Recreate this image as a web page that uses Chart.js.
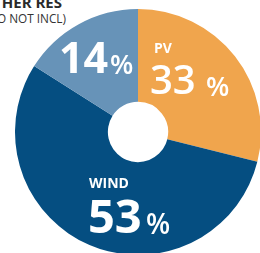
<!DOCTYPE html>
<html>
<head>
<meta charset="utf-8">
<script src="https://cdn.jsdelivr.net/npm/chart.js@4"></script>
<style>
  html, body { margin: 0; padding: 0; width: 260px; height: 253px; overflow: hidden; background: #fff; }
  #wrap { position: absolute; left: 15px; top: 8.5px; width: 246px; height: 246px; }
  .t { position: absolute; white-space: nowrap; font-family: "Open Sans", sans-serif; color: #2a2a2a; text-align: right; line-height: 1.362; }
  #t1 { right: 198px; top: -8px; font-size: 15px; font-weight: 700; }
  #t2 { right: 194px; top: 9.5px; font-size: 11.8px; font-weight: 400; color: #333; }
</style>
</head>
<body>
<div class="t" id="t1">OTHER RES</div>
<div class="t" id="t2">(HYDRO NOT INCL)</div>
<div id="wrap"><canvas id="c"></canvas></div>
<script>
// Categories and values (slice angles; printed shares from the labels)
const categories = ["PV", "WIND", "OTHER RES"];
const sliceValues = [28.9, 55.1, 16.0];
const shareLabels = ["33", "53", "14"];
const nameLabels = ["PV", "WIND", ""];
const colors = ["#F0A54D", "#054E81", "#6793B8"];

const labelPlugin = {
  id: "sliceLabels",
  afterDatasetsDraw(chart) {
    const arc = chart.getDatasetMeta(0).data[0];
    const cx = arc.x, cy = arc.y;
    const ctx = chart.ctx;
    ctx.save();
    ctx.fillStyle = "#fff";
    ctx.textAlign = "left";
    ctx.textBaseline = "alphabetic";
    const f = "'Open Sans', sans-serif";
    // layout per slice: [nameX, nameY, numX, numY, numFont, pctX, pctY, pctFont]
    const lay = [
      [154-138, 52-131.5, 150-138, 93.5-131.5, "600 40px " + f, 206-138, 95-131.5, "600 27px " + f],
      [89-138, 187-131.5, 88-138, 232.5-131.5, "700 47px " + f, 146-138, 233-131.5, "600 28px " + f],
      [0, 0, 59-138, 72.5-131.5, "700 43px " + f, 110-138, 73-131.5, "600 27px " + f]
    ];
    for (let i = 0; i < categories.length; i++) {
      const L = lay[i];
      if (nameLabels[i]) {
        ctx.font = "700 14px " + f;
        ctx.fillText(nameLabels[i], cx + L[0], cy + L[1]);
      }
      ctx.font = L[4];
      ctx.fillText(shareLabels[i], cx + L[2], cy + L[3]);
      ctx.font = L[7];
      ctx.fillText("%", cx + L[5], cy + L[6]);
    }
    ctx.restore();
  }
};

new Chart(document.getElementById("c"), {
  type: "doughnut",
  data: {
    labels: categories,
    datasets: [{
      data: sliceValues,
      backgroundColor: colors,
      borderWidth: 0
    }]
  },
  options: {
    responsive: true,
    maintainAspectRatio: false,
    animation: false,
    cutout: "24.5%",
    layout: { padding: 0 },
    plugins: { legend: { display: false }, tooltip: { enabled: false } }
  },
  plugins: [labelPlugin]
});
</script>
</body>
</html>
